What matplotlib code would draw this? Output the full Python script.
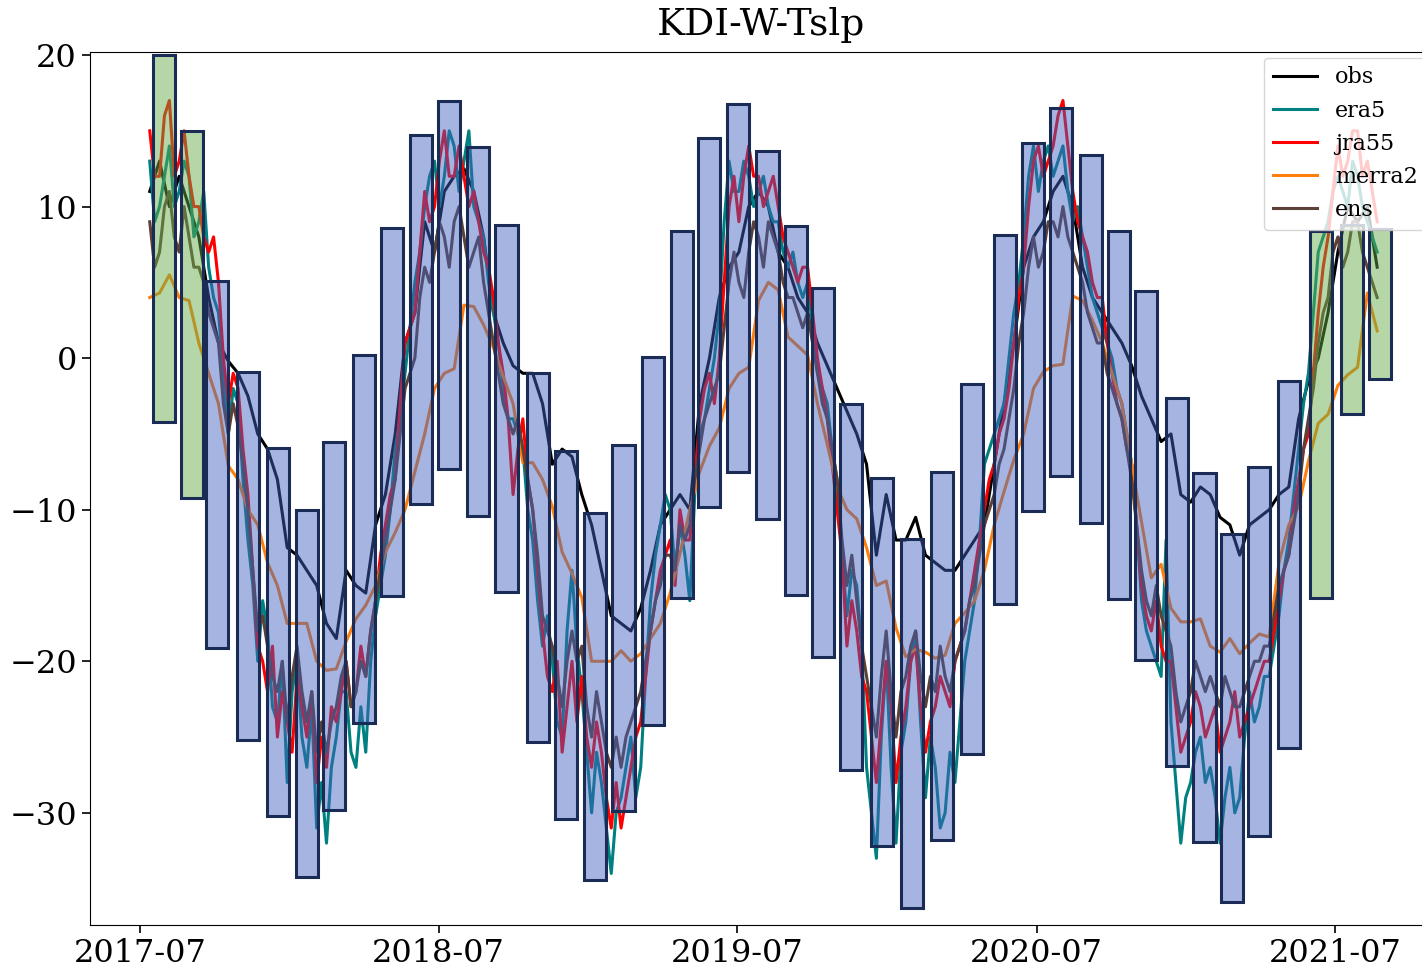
"""
KDI-W-Tslp: station obs vs reanalyses, with monthly range boxes.
"""
import pandas as pd
import matplotlib
matplotlib.use("Agg")
from matplotlib import pyplot
import matplotlib.dates as mdates

# obs and merra2 sampled every 12 days, the noisier reanalyses every 6 days
sample_dates = pd.date_range("2017-07-13", periods=126, freq="12D")
fine_dates = pd.date_range("2017-07-13", periods=251, freq="6D")

obs = [11, 13, 10, 12, 10, 8, 4, 1, -0.2, -1,
       -2.5, -5, -6, -8, -12.5, -13, -14, -15, -17.5, -18.5,
       -14, -15, -15.5, -11, -9, -5, 1, 3, 9, 7,
       11, 12, 12.5, 11, 8, 3, 1, -0.5, -1, -1,
       -3, -7, -6, -6.5, -9, -11, -14, -17, -17.5, -18,
       -16.5, -14, -11, -10, -9, -10, -3, 0, 4, 6,
       7, 10, 11, 10, 7, 6, 4, 3, 1, -0.5,
       -2, -3.5, -5, -7, -13, -9, -12, -12, -10.5, -13,
       -13.5, -14, -14, -13, -12, -11, -7, -3, 1, 6,
       8, 9, 11, 12, 10, 6, 4, 3, 2, 1,
       -0.5, -2.5, -4, -5.5, -5, -9, -9.5, -8.5, -9, -10.5,
       -11, -13, -11, -10.5, -10, -9, -8.5, -4, -1.5, 0,
       3, 7, 10, 9, 10, 6]

merra2 = [4.0, 4.3, 5.5, 4.0, 3.8, 1.0, -1.0, -3.0, -7.1, -8.0,
          -10.0, -11.0, -13.5, -15.0, -17.5, -17.5, -17.5, -20.0, -20.6, -20.5,
          -18.7, -17.2, -16.3, -15.0, -12.8, -11.5, -10.0, -7.5, -5.0, -2.0,
          -1.0, -0.7, 3.5, 3.4, 2.2, 0.7, -1.2, -3.0, -6.9, -6.9,
          -8.0, -9.8, -12.8, -14.2, -15.8, -20.0, -20.0, -20.0, -19.3, -20.0,
          -19.5, -18.5, -17.5, -15.5, -12.9, -10.0, -7.5, -5.8, -4.6, -2.0,
          -1.0, -0.6, 3.8, 5.0, 4.5, 1.4, 0.8, 0.2, -3.0, -5.7,
          -8.5, -10.0, -10.6, -12.5, -15.0, -14.7, -17.8, -19.7, -19.2, -19.4,
          -19.8, -19.6, -17.5, -16.8, -16.0, -14.0, -11.0, -8.8, -6.7, -5.0,
          -2.0, -0.9, -0.5, -0.4, 4.1, 3.8, 2.5, 1.0, -1.0, -3.0,
          -7.0, -10.8, -14.5, -13.6, -16.5, -17.4, -17.4, -17.2, -19.0, -19.4,
          -18.5, -19.5, -18.8, -18.2, -18.4, -13.5, -11.0, -9.8, -6.8, -4.3,
          -3.7, -1.8, -1.1, -0.6, 4.3, 1.8]

era5 = [13, 9, 10, 12, 14, 10, 11, 13, 12, 8,
        9, 11, 6, 4, 3, -1, -5, -2, -3, -8,
        -12, -15, -20, -16, -18, -23, -24, -20, -28, -22,
        -20, -25, -27, -23, -31, -28, -32, -27, -25, -22,
        -22, -26, -27, -23, -26, -20, -17, -15, -13, -10,
        -6, -4, -1, 2, 5, 7, 10, 12, 13, 10,
        12, 15, 14, 11, 13, 15, 10, 9, 8, 5,
        3, 1, -2, -4, -4, -5, -6, -10, -12, -16,
        -19, -17, -20, -24, -25, -18, -14, -19, -22, -26,
        -30, -26, -28, -31, -34, -30, -29, -27, -25, -29,
        -27, -21, -16, -13, -11, -9, -10, -14, -11, -13,
        -16, -9, -5, -4, -2, 0, 3, 9, 13, 11,
        11, 13, 12, 10, 11, 12, 10, 9, 9, 7,
        6, 7, 5, 4, 5, 2, -1, -2, -3, -6,
        -8, -13, -17, -14, -15, -19, -27, -30, -33, -25,
        -20, -27, -32, -26, -24, -20, -18, -24, -29, -25,
        -27, -31, -30, -26, -28, -24, -20, -18, -16, -12,
        -7, -6, -5, -4, -3, 0, 3, 5, 8, 12,
        14, 11, 13, 14, 12, 13, 14, 11, 9, 10,
        8, 6, 4, 3, 2, 1, 0, -2, -3, -5,
        -7, -11, -16, -18, -19, -20, -21, -12, -24, -28,
        -32, -29, -28, -26, -25, -28, -27, -29, -32, -29,
        -27, -30, -29, -25, -22, -24, -23, -21, -21, -19,
        -17, -14, -12, -9, -6, -3, -1, 3, 7, 8,
        9, 11, 12, 11, 10, 13, 12, 10, 9, 8,
        7]

jra55 = [15, 12, 12, 16, 17, 12, 13, 15, 12, 10,
         10, 8, 7, 8, 5, 0, -3, -1, -2, -6,
         -9, -14, -19, -20, -22, -19, -25, -22, -24, -26,
         -21, -23, -25, -22, -28, -25, -27, -23, -24, -22,
         -20, -23, -22, -19, -21, -18, -16, -13, -11, -9,
         -8, -3, 1, 2, 3, 7, 11, 9, 10, 13,
         15, 12, 12, 14, 12, 10, 11, 9, 7, 6,
         4, 1, -1, -4, -9, -6, -4, -8, -10, -14,
         -18, -21, -22, -20, -26, -23, -20, -24, -21, -25,
         -27, -24, -26, -29, -31, -28, -31, -29, -27, -25,
         -24, -21, -18, -16, -14, -13, -12, -15, -10, -12,
         -12, -8, -4, -2, -1, -3, 0, 5, 10, 12,
         9, 12, 14, 12, 12, 10, 11, 12, 10, 8,
         7, 6, 5, 6, 6, 3, 0, -2, -4, -7,
         -10, -13, -19, -16, -18, -21, -22, -25, -28, -24,
         -20, -23, -28, -25, -23, -20, -19, -23, -26, -24,
         -23, -21, -22, -23, -20, -19, -18, -16, -14, -12,
         -10, -8, -7, -5, -4, -2, 1, 4, 6, 10,
         13, 14, 12, 13, 14, 16, 17, 14, 11, 9,
         8, 7, 5, 4, 4, 1, -1, -3, -4, -6,
         -7, -11, -15, -17, -18, -16, -19, -20, -20, -23,
         -26, -25, -24, -22, -23, -25, -24, -23, -26, -25,
         -24, -22, -25, -24, -23, -22, -21, -20, -20, -18,
         -16, -14, -13, -10, -8, -6, -5, -1, 3, 6,
         8, 11, 14, 12, 13, 15, 15, 12, 13, 11,
         9]

ens = [9, 6, 7, 10, 11, 8, 7, 10, 8, 6,
       6, 5, 3, 2, 1, -3, -5, -3, -4.5, -7,
       -10, -14, -18, -17, -19, -21, -22, -20, -24, -21,
       -19, -22, -24, -22, -26, -24, -26, -24, -23, -21,
       -20, -23, -22, -20, -21, -18, -16, -14, -12, -10,
       -8, -5, -2, -1, 0, 4, 6, 5, 7, 9,
       8, 6, 9, 10, 8, 6, 7, 8, 5, 3,
       1, -1, -3, -4, -5, -4, -6, -8, -10, -13,
       -17, -18, -19, -21, -23, -20, -18, -20, -19, -23,
       -25, -22, -24, -26, -27, -25, -27, -25, -24, -23,
       -22, -20, -18, -16, -15, -13, -13, -14, -11, -12,
       -11, -8, -6, -4, -3, -2, -1, 2, 5, 7,
       5, 4, 7, 9, 8, 6, 9, 8, 7, 5,
       4, 4, 3, 2, 3, 1, -1, -3, -4, -6,
       -8, -12, -15, -13, -16, -19, -21, -23, -25, -21,
       -18, -22, -25, -22, -21, -19, -18, -21, -23, -21,
       -22, -19, -21, -22, -20, -19, -18, -16, -15, -13,
       -11, -10, -9, -7, -6, -4, -2, 1, 3, 6,
       8, 6, 7, 9, 9, 8, 10, 8, 7, 6,
       5, 3, 2, 1, 1, -1, -2, -3, -4, -6,
       -8, -11, -14, -16, -17, -15, -17, -18, -19, -22,
       -24, -23, -22, -20, -21, -22, -21, -22, -23, -21,
       -22, -23, -23, -22, -21, -20, -20, -19, -19, -17,
       -15, -14, -13, -11, -9, -6, -4, -2, 1, 3,
       4, 7, 8, 6, 7, 9, 9, 7, 6, 5,
       4]

# range boxes (centre date, low, high, kind)
box_dates = pd.to_datetime([
    "2017-07-30", "2017-09-03", "2017-10-03", "2017-11-10", "2017-12-17",
    "2018-01-21", "2018-02-23", "2018-04-01", "2018-05-05", "2018-06-10",
    "2018-07-14", "2018-08-18", "2018-09-22", "2018-10-30", "2018-12-04",
    "2019-01-08", "2019-02-12", "2019-03-20", "2019-04-24", "2019-05-28",
    "2019-07-02", "2019-08-07", "2019-09-11", "2019-10-14", "2019-11-17",
    "2019-12-25", "2020-01-31", "2020-03-07", "2020-04-13", "2020-05-23",
    "2020-06-26", "2020-07-31", "2020-09-05", "2020-10-09", "2020-11-12",
    "2020-12-19", "2021-01-22", "2021-02-25", "2021-03-30", "2021-05-05",
    "2021-06-13", "2021-07-21", "2021-08-24",
])
box_lo = [-4.2, -9.2, -19.1, -25.2, -30.2, -34.2, -29.8, -24.1, -15.7, -9.6,
          -7.3, -10.4, -15.4, -25.3, -30.4, -34.4, -29.9, -24.2, -15.8, -9.8,
          -7.5, -10.6, -15.6, -19.7, -27.2, -32.2, -36.3, -31.8, -26.1, -16.2,
          -10.1, -7.8, -10.9, -15.9, -19.9, -26.9, -31.9, -35.9, -31.5, -25.7,
          -15.8, -3.7, -1.4]
box_hi = [20.0, 15.0, 5.1, -0.9, -5.9, -10.0, -5.5, 0.2, 8.6, 14.7,
          17.0, 13.9, 8.8, -1.0, -6.1, -10.2, -5.7, 0.1, 8.4, 14.5,
          16.8, 13.7, 8.7, 4.6, -3.0, -7.9, -11.9, -7.5, -1.7, 8.1,
          14.2, 16.5, 13.4, 8.4, 4.4, -2.6, -7.6, -11.6, -7.2, -1.5,
          8.4, 8.8, 8.5]
box_kind = ["g", "g"] + ["b"] * 38 + ["g", "g", "g"]

series = [
    ("obs", sample_dates, obs, "black"),
    ("era5", fine_dates, era5, "teal"),
    ("jra55", fine_dates, jra55, "red"),
    ("merra2", sample_dates, merra2, "#ff7f0e"),
    ("ens", fine_dates, ens, "#5d4037"),
]


def main():
    pyplot.rcParams["font.family"] = ["DejaVu Serif"]

    fig = pyplot.figure(figsize=(14.22, 9.67), dpi=100)
    ax = fig.add_axes([90 / 1422, 42 / 967, 1342 / 1422, 873 / 967])

    for name, dates, vals, color in series:
        ax.plot(dates, vals, color=color, lw=2.2, label=name, zorder=2)

    face = {"b": (0.25, 0.38, 0.75, 0.47), "g": (0.39, 0.67, 0.27, 0.47)}
    heights = [hi - lo for lo, hi in zip(box_lo, box_hi)]
    ax.bar(box_dates, heights, bottom=box_lo, width=27,
           color=[face[k] for k in box_kind], edgecolor="#1a2b55",
           linewidth=2.2, zorder=3)

    ax.set_xlim(pd.Timestamp("2017-05-01"), pd.Timestamp("2021-10-27"))
    ax.set_ylim(-37.4, 20.2)
    ax.set_yticks([-30, -20, -10, 0, 10, 20])
    ax.xaxis.set_major_locator(mdates.MonthLocator(bymonth=7))
    ax.xaxis.set_major_formatter(mdates.DateFormatter("%Y-%m"))
    ax.tick_params(labelsize=23, length=6, width=1.2)

    ax.set_title("KDI-W-Tslp", fontsize=27, pad=12)
    ax.legend(loc="upper right", fontsize=16, framealpha=0.8,
              borderaxespad=0.25)

    fig.savefig("out.png", dpi=100)
    pyplot.close(fig)


if __name__ == "__main__":
    main()
